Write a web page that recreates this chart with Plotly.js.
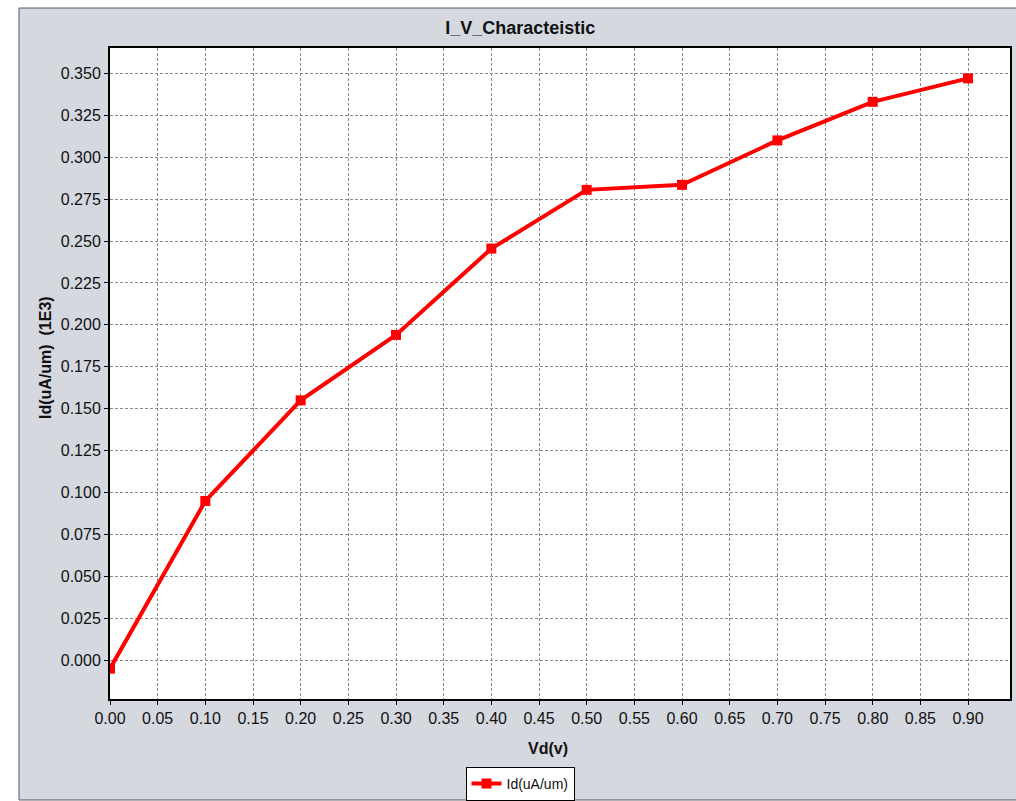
<!DOCTYPE html>
<html>
<head>
<meta charset="utf-8">
<script src="https://cdn.plot.ly/plotly-3.0.1.min.js"></script>
<style>
  html, body { margin: 0; padding: 0; background: #ffffff; }
  #chart { width: 1016px; height: 801px; }
</style>
</head>
<body>
<div id="chart"></div>
<script>
// Drain voltage sweep (V) and drain current, in units of 1E3 uA/um
const vd = [0.0, 0.1, 0.2, 0.3, 0.4, 0.5, 0.6, 0.7, 0.8, 0.9];
const id = [-0.005, 0.095, 0.155, 0.194, 0.2455, 0.2805, 0.2835, 0.310, 0.333, 0.347];

const xTicks = [0.00, 0.05, 0.10, 0.15, 0.20, 0.25, 0.30, 0.35, 0.40, 0.45,
                0.50, 0.55, 0.60, 0.65, 0.70, 0.75, 0.80, 0.85, 0.90];
const yTicks = [0.000, 0.025, 0.050, 0.075, 0.100, 0.125, 0.150, 0.175,
                0.200, 0.225, 0.250, 0.275, 0.300, 0.325, 0.350];

const seriesName = 'Id(uA/um)';
const chartTitle = 'I_V_Characteistic';
const xLabel = 'Vd(v)';
const yLabel = 'Id(uA/um)  (1E3)';

const FONT = 'Liberation Sans, Arial, Helvetica, sans-serif';
const PANEL = '#d5d8df';

const trace = {
  x: vd,
  y: id,
  name: seriesName,
  type: 'scatter',
  mode: 'lines+markers',
  line: { color: '#ff0000', width: 4 },
  marker: { color: '#ff0000', symbol: 'square', size: 10 },
  showlegend: true
};

const gridStyle = {
  showgrid: true,
  gridcolor: '#8a8a8a',
  gridwidth: 1,
  griddash: '3px,2px',
  zeroline: false,
  showline: true,
  mirror: true,
  linecolor: '#000000',
  linewidth: 2,
  ticks: 'outside',
  ticklen: 4,
  tickcolor: '#000000',
  tickfont: { family: FONT, size: 16, color: '#111111' }
};

const layout = {
  width: 1016,
  height: 801,
  margin: { l: 110, r: 6, t: 48, b: 102 },
  paper_bgcolor: '#ffffff',
  plot_bgcolor: '#ffffff',
  title: {
    text: '<b>' + chartTitle + '</b>',
    font: { family: FONT, size: 18, color: '#111111' },
    xref: 'container', x: 0.512, xanchor: 'center',
    yref: 'container', y: 0.965, yanchor: 'middle'
  },
  xaxis: Object.assign({}, gridStyle, {
    range: [0, 0.944],
    tickmode: 'array',
    tickvals: xTicks,
    ticktext: xTicks.map(v => v.toFixed(2))
  }),
  yaxis: Object.assign({}, gridStyle, {
    range: [-0.0231, 0.3651],
    tickmode: 'array',
    tickvals: yTicks,
    ticktext: yTicks.map(v => v.toFixed(3))
  }),
  showlegend: true,
  legend: {
    orientation: 'h',
    xref: 'container', x: 520 / 1016, xanchor: 'center',
    yref: 'container', y: 1 - 767 / 801, yanchor: 'top',
    bgcolor: '#ffffff',
    bordercolor: '#000000',
    borderwidth: 1,
    font: { family: FONT, size: 14, color: '#111111' },
    itemwidth: 30
  },
  shapes: [
    // grey chart panel
    {
      type: 'rect', xref: 'paper', yref: 'paper', layer: 'below',
      x0: -0.1011, x1: 1.02, y0: -0.1551, y1: 1.0614,
      fillcolor: PANEL,
      line: { color: '#555a63', width: 1 }
    },
    // white plotting area on top of the panel
    {
      type: 'rect', xref: 'paper', yref: 'paper', layer: 'below',
      x0: 0, x1: 1, y0: 0, y1: 1,
      fillcolor: '#ffffff',
      line: { width: 0 }
    }
  ],
  annotations: [
    {
      text: '<b>' + xLabel + '</b>',
      xref: 'paper', yref: 'paper',
      x: (548 - 110) / 900, y: (699 - 748) / 651,
      xanchor: 'center', yanchor: 'middle',
      showarrow: false,
      font: { family: FONT, size: 16, color: '#111111' }
    },
    {
      text: '<b>' + yLabel + '</b>',
      xref: 'paper', yref: 'paper',
      x: (45 - 110) / 900, y: (699 - 358) / 651,
      xanchor: 'center', yanchor: 'middle',
      textangle: -90,
      showarrow: false,
      font: { family: FONT, size: 16, color: '#111111' }
    }
  ]
};

Plotly.newPlot('chart', [trace], layout, { staticPlot: true, displayModeBar: false });
</script>
</body>
</html>
